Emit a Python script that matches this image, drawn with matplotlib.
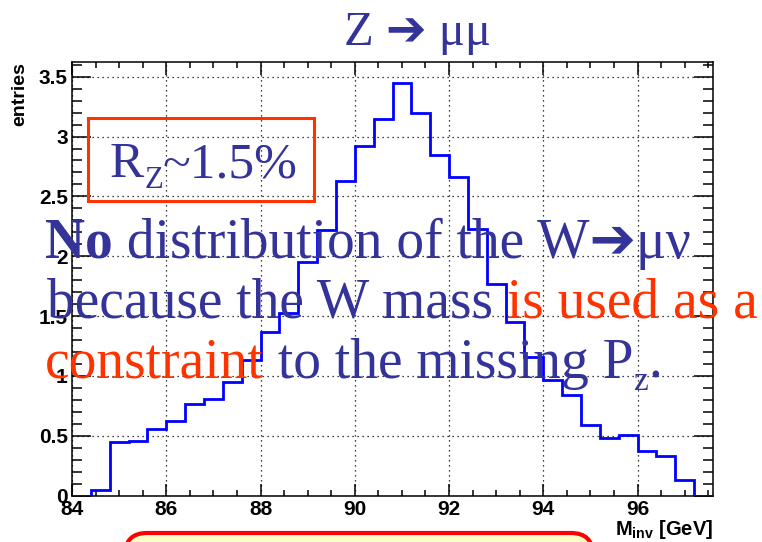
import matplotlib
matplotlib.use("Agg")
import matplotlib.pyplot as plt
from matplotlib.patches import Rectangle, FancyBboxPatch
from matplotlib.ticker import MultipleLocator, FuncFormatter
from matplotlib.transforms import IdentityTransform

# Z -> mu mu invariant mass histogram, 0.4 GeV bins
bin_edges = [84.0, 84.4, 84.8, 85.2, 85.6, 86.0, 86.4, 86.8, 87.2, 87.6,
             88.0, 88.4, 88.8, 89.2, 89.6, 90.0, 90.4, 90.8, 91.2, 91.6,
             92.0, 92.4, 92.8, 93.2, 93.6, 94.0, 94.4, 94.8, 95.2, 95.6,
             96.0, 96.4, 96.8, 97.2, 97.6]
entries = [0.0, 0.05, 0.45, 0.46, 0.56, 0.62, 0.77, 0.81, 0.95, 1.13,
           1.37, 1.53, 1.95, 2.22, 2.63, 2.92, 3.15, 3.45, 3.20, 2.85,
           2.66, 2.23, 1.77, 1.45, 1.16, 0.97, 0.84, 0.59, 0.48, 0.51,
           0.37, 0.33, 0.13, 0.0]

x_ticks = [84, 86, 88, 90, 92, 94, 96]
title = "Z \u2794 \u03bc\u03bc"
resolution_text = ("R", "Z", "~1.5%")

BLUE_TXT = "#333399"
RED_TXT = "#ff3300"
SERIF = ["Liberation Serif", "DejaVu Sans"]

plt.rcParams["font.family"] = ["Liberation Sans", "DejaVu Sans"]
plt.rcParams["mathtext.fontset"] = "custom"
plt.rcParams["mathtext.rm"] = "Liberation Sans"
plt.rcParams["mathtext.bf"] = "Liberation Sans:bold"

fig = plt.figure(figsize=(7.62, 5.42), dpi=100)
ax = fig.add_axes([0.0945, 0.0854, 0.8412, 0.7996])

ax.stairs(entries, bin_edges, color="blue", linewidth=2.0, zorder=3)

ax.set_xlim(84, 97.6)
ax.set_ylim(0, 3.62)
ax.set_xticks(x_ticks)
ax.xaxis.set_minor_locator(MultipleLocator(0.5))
ax.yaxis.set_major_locator(MultipleLocator(0.5))
ax.yaxis.set_minor_locator(MultipleLocator(0.1))
ax.yaxis.set_major_formatter(FuncFormatter(lambda v, _: f"{v:g}"))

ax.tick_params(which="both", direction="in", top=True, right=True,
               width=1.1, labelsize=15, pad=3)
ax.xaxis.set_tick_params(which="major", length=9)
ax.xaxis.set_tick_params(which="minor", length=4.5)
ax.yaxis.set_tick_params(which="major", length=14)
ax.yaxis.set_tick_params(which="minor", length=7)
for lbl in ax.get_xticklabels() + ax.get_yticklabels():
    lbl.set_fontweight("bold")
for sp in ax.spines.values():
    sp.set_linewidth(1.1)

ax.grid(True, which="major", color="black", linestyle=(0, (1, 3)), linewidth=0.9)

fig.text(20 / 762, 0.885, "entries", rotation=90, ha="center", va="top",
         fontsize=14, fontweight="bold")
fig.text(713 / 762, 7 / 542, r"$\mathbf{M_{inv}}$ [GeV]", ha="right",
         va="baseline", fontsize=14.5, fontweight="bold")

fig.text(417 / 762, 497 / 542, title, ha="center", va="baseline",
         fontsize=35, color=BLUE_TXT, family=SERIF)

renderer = fig.canvas.get_renderer()


def put_run(x, y, pieces, size):
    # write pieces one after the other, each starting where the last ended
    for txt, color, weight, dy, scale in pieces:
        t = fig.text(x, y + dy, txt, transform=IdentityTransform(),
                     ha="left", va="baseline", fontsize=size * scale,
                     color=color, fontweight=weight, family=SERIF, zorder=5)
        x = t.get_window_extent(renderer).x1


big = 40
put_run(45, 284, [("No", BLUE_TXT, "bold", 0, 1),
                  (" distribution of the W\u2794\u03bc\u03bd", BLUE_TXT, "normal", 0, 1)], big)
put_run(47, 225, [("because the W mass", BLUE_TXT, "normal", 0, 1),
                  (" is used as a", RED_TXT, "normal", 0, 1)], big)
put_run(45, 164, [("constraint", RED_TXT, "normal", 0, 1),
                  (" to the missing P", BLUE_TXT, "normal", 0, 1),
                  ("z", BLUE_TXT, "normal", -12, 0.6),
                  (".", BLUE_TXT, "normal", 0, 1)], big)

put_run(110, 365, [(resolution_text[0], BLUE_TXT, "normal", 0, 1),
                   (resolution_text[1], BLUE_TXT, "normal", -11, 0.6),
                   (resolution_text[2], BLUE_TXT, "normal", 0, 1)], 37)

fig.add_artist(Rectangle((88, 341), 226, 83, transform=IdentityTransform(),
                         fill=False, edgecolor=RED_TXT, linewidth=2.2, zorder=4))

fig.add_artist(FancyBboxPatch((125, -40), 468, 49, transform=IdentityTransform(),
                              boxstyle="round,pad=0,rounding_size=22",
                              facecolor="#ffffc8", edgecolor="#ff0000",
                              linewidth=3, clip_on=False, zorder=4))

fig.savefig("out.png", dpi=100)
